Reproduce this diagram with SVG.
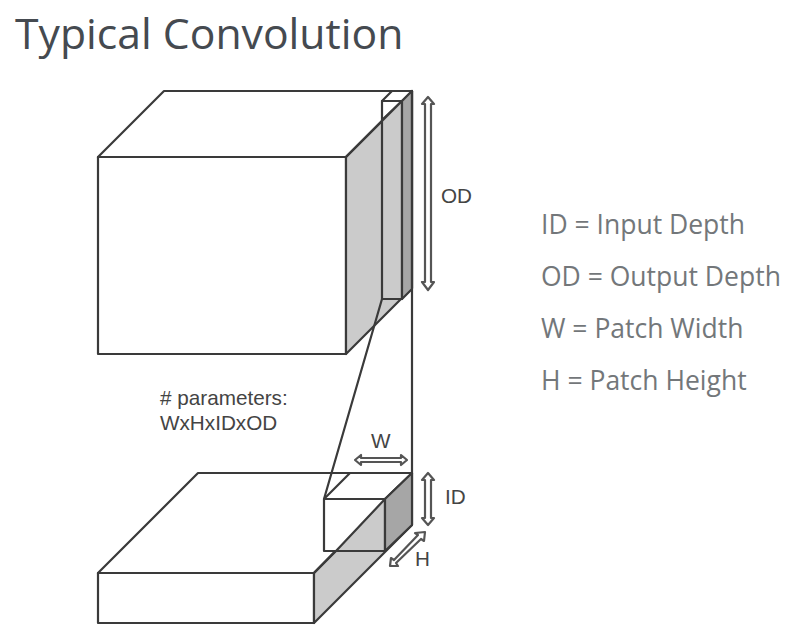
<svg xmlns="http://www.w3.org/2000/svg" width="796" height="626" viewBox="0 0 796 626">
<defs>
<style>
.l{fill:none;stroke:#3a3a3a;stroke-width:2.2;stroke-linejoin:round}
.w{fill:#fff;stroke:#3a3a3a;stroke-width:2.2;stroke-linejoin:round}
.g{fill:#cbcbcb;stroke:#3a3a3a;stroke-width:2.2;stroke-linejoin:round}
.d{fill:#a6a6a6;stroke:#3a3a3a;stroke-width:2.2;stroke-linejoin:round}
.a{fill:#fff;stroke:#555;stroke-width:2.2;stroke-linejoin:round}
.t{font-family:"Liberation Sans",Arial,sans-serif;font-size:20.700px;fill:#444}
.k{font-family:"Open Sans",sans-serif;font-size:26.500px;fill:#73777a}
</style>
</defs>
<rect width="796" height="626" fill="#fff"/>
<text x="15" y="49" font-family="Open Sans, sans-serif" font-size="42.700" fill="#454a50">Typical Convolution</text>
<g id="output-volume">
<path class="w" d="M98 157H346L412 91H164Z"/>
<rect class="w" x="98" y="157" width="248" height="197"/>
<path class="g" d="M346 157L412 91V288L346 354Z"/>
</g>
<g id="output-patch">
<path class="w" d="M382 101L392 91H412L402 101Z"/>
<path class="w" d="M382 101H402L382 120Z"/>
<path class="l" d="M346 157L402 101"/>
<path class="g" d="M382 121L402 101V299H382Z"/>
<path class="d" d="M402 101L412 91V289L402 299Z"/>
</g>
<g id="input-volume">
<path class="w" d="M98 573H314L412 473H198Z"/>
<rect class="w" x="98" y="573" width="216" height="50"/>
<path class="g" d="M314 573L412 473V525L314 623Z"/>
</g>
<g id="input-patch">
<path class="w" d="M324 499L350 473H412L385 499Z"/>
<path class="w" d="M324 499H385V551H324Z"/>
<path class="g" d="M385 499V551H336Z"/>
<path class="d" d="M385 499L412 473V525L385 551Z"/>
<path class="l" d="M314 573L336 551"/>
</g>
<g id="connectors">
<path class="l" d="M412 91V473M382 299L324 499"/>
</g>
<g id="dimension-arrows">
<path class="a" d="M428 97L434 104H431V282H434L428 290L422 282H425V104H422Z"/>
<path class="a" d="M355 460L361 455V458H401V455L407 460L401 465V462H361V465Z"/>
<path class="a" d="M428 473L434 480H431V518H434L428 525L422 518H425V480H422Z"/>
<path class="a" d="M425 532L424 541L421 539L396 563L398 566L390 566L391 558L394 560L418 535L415 533Z"/>
</g>
<g id="labels">
<text class="t" x="441" y="203">OD</text>
<text class="t" x="371" y="448">W</text>
<text class="t" x="445" y="504">ID</text>
<text class="t" x="415" y="566">H</text>
<text class="t" x="160" y="405"># parameters:</text>
<text class="t" x="160" y="430">WxHxIDxOD</text>
</g>
<g id="legend">
<text class="k" x="541" y="234">ID = Input Depth</text>
<text class="k" x="541" y="286">OD = Output Depth</text>
<text class="k" x="541" y="338">W = Patch Width</text>
<text class="k" x="541" y="390">H = Patch Height</text>
</g>
</svg>
